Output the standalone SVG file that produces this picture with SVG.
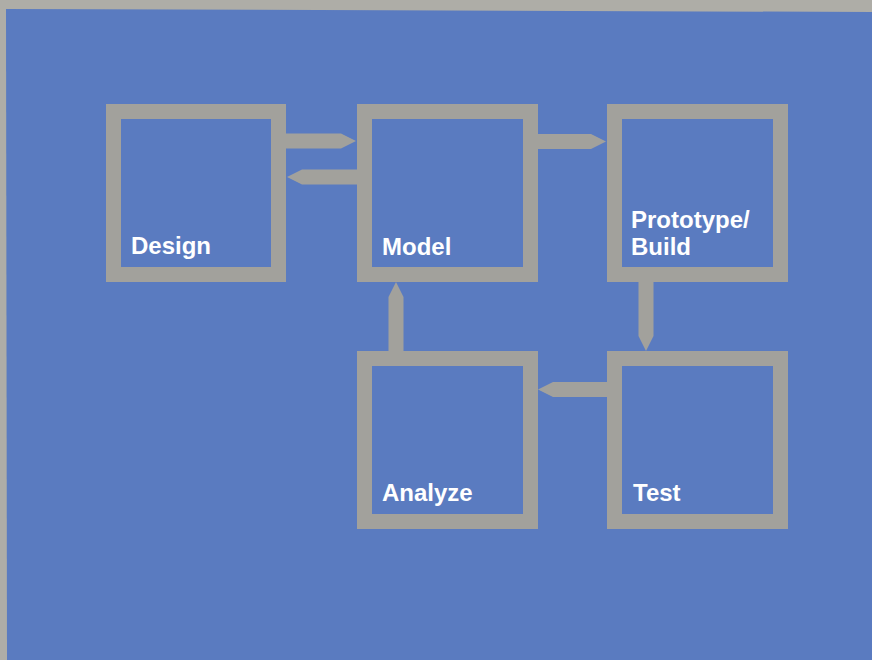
<svg xmlns="http://www.w3.org/2000/svg" width="872" height="660" viewBox="0 0 872 660">
  <style>
    .frame { fill: none; stroke: #a2a19c; stroke-width: 15; }
    .arrow { fill: #a2a19c; }
    .label { fill: #ffffff; font-family: "Liberation Sans", Arial, Helvetica, sans-serif; font-weight: bold; font-size: 24px; }
  </style>
  <!-- paper edge and blue panel -->
  <rect x="0" y="0" width="872" height="660" fill="#aeada7"/>
  <polygon points="6,9 872,12 872,660 7,660" fill="#5a7bc0"/>

  <!-- connectors -->
  <g id="connectors">
    <!-- Design -> Model -->
    <polygon class="arrow" points="285,133.5 341,133.5 356,141 341,148.5 285,148.5"/>
    <!-- Model -> Design -->
    <polygon class="arrow" points="358,169.5 302,169.5 287,177 302,184.5 358,184.5"/>
    <!-- Model -> Prototype/Build -->
    <polygon class="arrow" points="536,134 591,134 606,141.5 591,149 536,149"/>
    <!-- Prototype/Build -> Test -->
    <polygon class="arrow" points="638.5,281 653.5,281 653.5,336 646,351 638.5,336"/>
    <!-- Test -> Analyze -->
    <polygon class="arrow" points="608,382 553,382 538,389.5 553,397 608,397"/>
    <!-- Analyze -> Model -->
    <polygon class="arrow" points="388.5,352 403.5,352 403.5,297 396,282 388.5,297"/>
  </g>

  <g id="design">
    <rect class="frame" x="113.5" y="111.5" width="165" height="163"/>
    <text class="label" x="131" y="254">Design</text>
  </g>
  <g id="model">
    <rect class="frame" x="364.5" y="111.5" width="166" height="163"/>
    <text class="label" x="382" y="255">Model</text>
  </g>
  <g id="prototype-build">
    <rect class="frame" x="614.5" y="111.5" width="166" height="163"/>
    <text class="label" x="631" y="228">Prototype/</text>
    <text class="label" x="631" y="255">Build</text>
  </g>
  <g id="analyze">
    <rect class="frame" x="364.5" y="358.5" width="166" height="163"/>
    <text class="label" x="382" y="501">Analyze</text>
  </g>
  <g id="test">
    <rect class="frame" x="614.5" y="358.5" width="166" height="163"/>
    <text class="label" x="633" y="501">Test</text>
  </g>
</svg>
